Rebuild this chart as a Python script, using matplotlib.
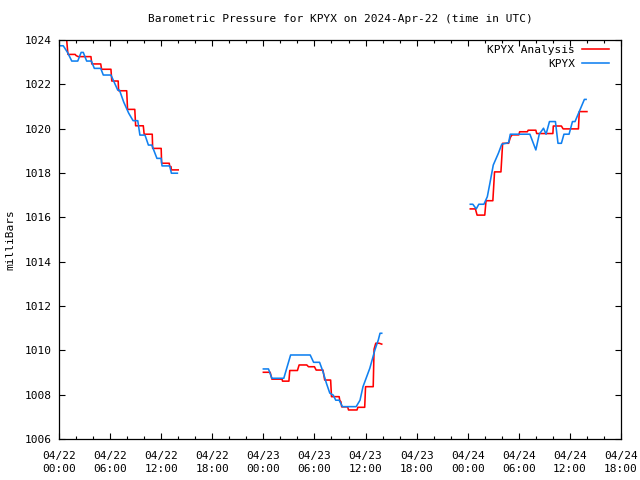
import numpy as np
import matplotlib
matplotlib.use("Agg")
import matplotlib.pyplot as plt
import matplotlib.dates as mdates

start = np.datetime64("2024-04-22T00:00")

# Hours since 2024-04-22 00:00 UTC and pressure (mb) - KPYX Analysis (red)
red_h1 = [0.0, 0.9, 1.05, 1.9, 2.0, 2.25, 3.75, 3.85, 4.9, 5.0, 6.1, 6.2, 6.95, 7.0, 7.95,
          8.05, 8.9, 9.0, 9.9, 10.0, 10.95, 11.0, 12.0, 12.05, 12.95, 13.0, 13.15, 13.2, 14.0]
red_v1 = [1024.0, 1024.0, 1023.35, 1023.35, 1023.3, 1023.25, 1023.25, 1022.92, 1022.92, 1022.68,
          1022.68, 1022.15, 1022.15, 1021.71, 1021.71, 1020.87, 1020.87, 1020.13, 1020.13, 1019.75,
          1019.75, 1019.11, 1019.11, 1018.44, 1018.44, 1018.29, 1018.29, 1018.14, 1018.14]
red_h2 = [24.0, 24.8, 25.0, 26.2, 26.25, 27.0, 27.1, 28.0, 28.2, 29.1, 29.3, 30.0, 30.2, 31.0,
          31.2, 31.9, 32.0, 32.9, 33.0, 33.1, 33.2, 33.9, 34.0, 35.0, 35.1, 35.9, 36.0, 36.9,
          37.0, 37.2, 37.6, 37.9]
red_v2 = [1009.01, 1009.01, 1008.70, 1008.70, 1008.61, 1008.61, 1009.09, 1009.09, 1009.34, 1009.34,
          1009.26, 1009.26, 1009.11, 1009.11, 1008.66, 1008.66, 1007.91, 1007.91, 1007.69, 1007.69,
          1007.45, 1007.45, 1007.31, 1007.31, 1007.43, 1007.43, 1008.36, 1008.36, 1010.05, 1010.32,
          1010.32, 1010.28]
red_h3 = [48.3, 48.9, 49.1, 50.0, 50.15, 50.95, 51.15, 51.9, 52.1, 52.8, 53.0, 53.2, 54.0, 54.1,
          55.0, 55.1, 56.0, 56.1, 58.0, 58.05, 59.0, 59.2, 61.0, 61.1, 62.0]
red_v3 = [1016.38, 1016.38, 1016.1, 1016.1, 1016.75, 1016.75, 1018.05, 1018.05, 1019.34, 1019.34,
          1019.6, 1019.72, 1019.72, 1019.86, 1019.86, 1019.93, 1019.93, 1019.78, 1019.78, 1020.12,
          1020.12, 1019.99, 1019.99, 1020.77, 1020.77]

# KPYX observations (blue)
blue_h1 = [0.0, 0.5, 1.0, 1.5, 2.2, 2.6, 2.85, 3.25, 3.8, 4.15, 4.9, 5.2, 6.1, 6.9, 7.1, 7.6,
           8.2, 8.7, 9.25, 9.5, 10.1, 10.5, 10.9, 11.5, 12.0, 12.1, 13.0, 13.2, 13.9]
blue_v1 = [1023.74, 1023.74, 1023.44, 1023.05, 1023.05, 1023.44, 1023.44, 1023.05, 1023.05, 1022.72,
           1022.72, 1022.42, 1022.42, 1021.74, 1021.74, 1021.2, 1020.7, 1020.36, 1020.36, 1019.71,
           1019.71, 1019.26, 1019.26, 1018.66, 1018.66, 1018.32, 1018.32, 1017.99, 1017.99]
blue_h2 = [24.0, 24.6, 25.0, 26.4, 27.2, 29.5, 29.9, 30.6, 31.0, 31.4, 31.8, 32.2, 32.5, 32.9,
           33.3, 34.9, 35.35, 35.7, 36.5, 37.1, 37.5, 37.7, 37.9]
blue_v2 = [1009.16, 1009.16, 1008.74, 1008.74, 1009.79, 1009.79, 1009.46, 1009.46, 1009.04, 1008.52,
           1008.07, 1007.98, 1007.75, 1007.75, 1007.46, 1007.46, 1007.75, 1008.36, 1009.19, 1010.02,
           1010.47, 1010.77, 1010.77]
blue_h3 = [48.3, 48.6, 49.0, 49.3, 49.9, 50.3, 50.6, 51.0, 51.6, 52.0, 52.8, 53.0, 55.3, 56.0,
           56.4, 56.9, 57.2, 57.6, 58.3, 58.6, 59.0, 59.3, 59.9, 60.3, 60.6, 61.7, 61.9]
blue_v3 = [1016.59, 1016.59, 1016.38, 1016.59, 1016.59, 1016.93, 1017.53, 1018.36, 1018.89, 1019.3,
           1019.37, 1019.75, 1019.75, 1019.04, 1019.75, 1020.02, 1019.75, 1020.32, 1020.32, 1019.34,
           1019.34, 1019.75, 1019.75, 1020.32, 1020.32, 1021.32, 1021.32]

y_ticks = [1006, 1008, 1010, 1012, 1014, 1016, 1018, 1020, 1022, 1024]


def to_time(hours):
    return start + (np.array(hours) * 60).astype("timedelta64[m]")


plt.rcParams["font.family"] = ["DejaVu Sans Mono"]
plt.rcParams["font.size"] = 8

fig = plt.figure(figsize=(6.4, 4.8), dpi=100)
ax = fig.add_axes([59 / 640, 1 - 439 / 480, (621 - 59) / 640, (439 - 40) / 480])

red_c = "#ff0000"
blue_c = "#1080f0"
lw = 1.15
first = True
for hh, vv in [(red_h1, red_v1), (red_h2, red_v2), (red_h3, red_v3)]:
    ax.plot(to_time(hh), vv, color=red_c, lw=lw, label="KPYX Analysis" if first else None)
    first = False
first = True
for hh, vv in [(blue_h1, blue_v1), (blue_h2, blue_v2), (blue_h3, blue_v3)]:
    ax.plot(to_time(hh), vv, color=blue_c, lw=lw, label="KPYX" if first else None)
    first = False

ax.set_xlim(to_time([0])[0], to_time([66])[0])
ax.set_ylim(1006, 1024)
ax.set_yticks(y_ticks)
ax.xaxis.set_major_locator(mdates.HourLocator(byhour=[0, 6, 12, 18]))
ax.xaxis.set_minor_locator(mdates.HourLocator(byhour=range(0, 24, 2)))
ax.xaxis.set_major_formatter(mdates.DateFormatter("%m/%d\n%H:%M"))
ax.tick_params(which="both", direction="in", top=True, right=True, colors="black")
ax.tick_params(which="major", length=4, width=0.8)
ax.tick_params(axis="x", which="major", pad=9)
ax.tick_params(axis="y", which="major", pad=5)
ax.tick_params(which="minor", length=2, width=0.8)
for lab in ax.get_xticklabels():
    lab.set_linespacing(1.25)
for s in ax.spines.values():
    s.set_linewidth(0.9)

ax.set_ylabel("milliBars", labelpad=7)
fig.text(340 / 640, 1 - 19 / 480, "Barometric Pressure for KPYX on 2024-Apr-22 (time in UTC)",
         ha="center", va="center", fontsize=8)

ax.legend(loc="upper right", bbox_to_anchor=(0.993, 1.006), markerfirst=False, frameon=False,
          handlelength=2.5, borderaxespad=0.3, labelspacing=0.3, handletextpad=0.6)

fig.savefig("out.png", dpi=100)
